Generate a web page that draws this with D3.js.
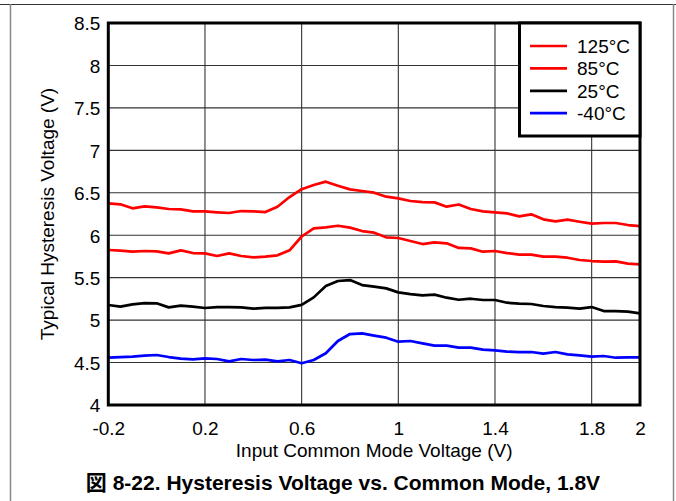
<!DOCTYPE html>
<html>
<head>
<meta charset="utf-8">
<script src="https://cdn.jsdelivr.net/npm/d3@7/dist/d3.min.js"></script>
<style>
  html, body { margin: 0; padding: 0; background: #fff; }
  svg { display: block; font-family: "Liberation Sans", Arial, sans-serif; }
</style>
</head>
<body>
<svg id="chart" width="676" height="501"></svg>
<script>
// ---- data ----
const commonModeV = [-0.2, -0.15, -0.1, -0.05, 0, 0.05, 0.1, 0.15, 0.2, 0.25, 0.3, 0.35, 0.4, 0.45, 0.5, 0.55,
  0.6, 0.65, 0.7, 0.75, 0.8, 0.85, 0.9, 0.95, 1.0, 1.05, 1.1, 1.15, 1.2, 1.25, 1.3,
  1.35, 1.4, 1.45, 1.5, 1.55, 1.6, 1.65, 1.7, 1.75, 1.8, 1.85, 1.9, 1.95, 2.0];

const hyst125 = [6.375, 6.364, 6.317, 6.340, 6.328, 6.309, 6.305, 6.281, 6.281, 6.270, 6.262, 6.285, 6.281, 6.273, 6.336, 6.450,
  6.542, 6.591, 6.631, 6.583, 6.540, 6.521, 6.501, 6.454, 6.434, 6.403, 6.391, 6.387, 6.336, 6.362, 6.309,
  6.281, 6.269, 6.258, 6.222, 6.246, 6.187, 6.163, 6.183, 6.159, 6.136, 6.144, 6.144, 6.120, 6.108];

const hyst85 = [5.826, 5.818, 5.806, 5.814, 5.810, 5.786, 5.822, 5.790, 5.786, 5.755, 5.786, 5.755, 5.739, 5.747, 5.763, 5.822,
  5.985, 6.081, 6.093, 6.112, 6.089, 6.049, 6.030, 5.975, 5.967, 5.932, 5.896, 5.916, 5.905, 5.850, 5.845,
  5.806, 5.814, 5.790, 5.771, 5.771, 5.747, 5.747, 5.735, 5.708, 5.696, 5.688, 5.692, 5.665, 5.657];

const hyst25 = [5.178, 5.158, 5.186, 5.201, 5.198, 5.150, 5.170, 5.158, 5.143, 5.154, 5.154, 5.150, 5.135, 5.143, 5.143, 5.150,
  5.180, 5.268, 5.402, 5.461, 5.472, 5.413, 5.394, 5.374, 5.327, 5.307, 5.291, 5.300, 5.264, 5.240, 5.252,
  5.237, 5.237, 5.205, 5.194, 5.190, 5.166, 5.154, 5.146, 5.135, 5.154, 5.107, 5.107, 5.099, 5.080];

const hystM40 = [4.557, 4.565, 4.569, 4.581, 4.589, 4.565, 4.546, 4.538, 4.550, 4.542, 4.514, 4.542, 4.530, 4.534, 4.514, 4.530,
  4.491, 4.530, 4.609, 4.754, 4.836, 4.844, 4.817, 4.793, 4.746, 4.754, 4.726, 4.699, 4.699, 4.675, 4.675,
  4.652, 4.644, 4.628, 4.624, 4.624, 4.605, 4.624, 4.597, 4.585, 4.569, 4.577, 4.557, 4.561, 4.561];

const seriesNames = ["125°C", "85°C", "25°C", "-40°C"];
const seriesColors = ["#ff0000", "#ff0000", "#000000", "#0000ff"];
const seriesValues = [hyst125, hyst85, hyst25, hystM40];

const xTickValues = [-0.2, 0.2, 0.6, 1, 1.4, 1.8, 2];
const xTickLabels = ["-0.2", "0.2", "0.6", "1", "1.4", "1.8", "2"];
const xGridValues = [0.2, 0.6, 1, 1.4, 1.8];
const yTickValues = [4, 4.5, 5, 5.5, 6, 6.5, 7, 7.5, 8, 8.5];
const yTickLabels = ["4", "4.5", "5", "5.5", "6", "6.5", "7", "7.5", "8", "8.5"];

const xTitle = "Input Common Mode Voltage (V)";
const yTitle = "Typical Hysteresis Voltage (V)";
const caption = "図 8-22. Hysteresis Voltage vs. Common Mode, 1.8V";

// ---- layout ----
const W = 676, H = 501;
const plot = { left: 108.3, right: 640, top: 23, bottom: 405 };

const svg = d3.select("#chart");
svg.append("rect").attr("width", W).attr("height", H).attr("fill", "#fff");

// page frame
svg.append("line").attr("x1", 0).attr("x2", W).attr("y1", 4.5).attr("y2", 4.5)
  .attr("stroke", "#333").attr("stroke-width", 1);
svg.append("line").attr("x1", 10.5).attr("x2", 10.5).attr("y1", 4).attr("y2", H)
  .attr("stroke", "#888").attr("stroke-width", 1.5);
svg.append("line").attr("x1", 673.5).attr("x2", 673.5).attr("y1", 4).attr("y2", H)
  .attr("stroke", "#888").attr("stroke-width", 1.5);

const x = d3.scaleLinear().domain([-0.2, 2]).range([plot.left, plot.right]);
const y = d3.scaleLinear().domain([4, 8.5]).range([plot.bottom, plot.top]);

// grid
const grid = svg.append("g");
grid.selectAll("line.v").data(xGridValues).join("line")
  .attr("x1", d => x(d)).attr("x2", d => x(d))
  .attr("y1", plot.top).attr("y2", plot.bottom)
  .attr("stroke", "#333").attr("stroke-width", 1.1);
grid.selectAll("line.h").data(yTickValues.slice(1, -1)).join("line")
  .attr("x1", plot.left).attr("x2", plot.right)
  .attr("y1", d => y(d)).attr("y2", d => y(d))
  .attr("stroke", "#333").attr("stroke-width", 1.1);

// curves
const line = d3.line().x((d, i) => x(commonModeV[i])).y(d => y(d));
const curves = svg.append("g");
seriesValues.slice().reverse().forEach((vals, k) => {
  const idx = seriesValues.length - 1 - k;
  curves.append("path").datum(vals)
    .attr("d", line)
    .attr("fill", "none")
    .attr("stroke", seriesColors[idx])
    .attr("stroke-width", 2.7)
    .attr("stroke-linejoin", "round");
});

// plot frame
svg.append("rect")
  .attr("x", plot.left).attr("y", plot.top)
  .attr("width", plot.right - plot.left).attr("height", plot.bottom - plot.top)
  .attr("fill", "none").attr("stroke", "#000").attr("stroke-width", 3);

// axes (labels via d3 axes)
const xAxis = d3.axisBottom(x).tickValues(xTickValues)
  .tickFormat((d, i) => xTickLabels[i]).tickSize(0).tickPadding(0);
const gx = svg.append("g").attr("transform", `translate(0,${plot.bottom})`).call(xAxis);
gx.select(".domain").remove();
gx.selectAll("text").attr("font-size", 19).attr("fill", "#000")
  .attr("font-family", "'Liberation Sans', Arial, sans-serif")
  .attr("dy", null).attr("y", 30);

const yAxis = d3.axisLeft(y).tickValues(yTickValues)
  .tickFormat((d, i) => yTickLabels[i]).tickSize(0).tickPadding(0);
const gy = svg.append("g").attr("transform", `translate(${plot.left},0)`).call(yAxis);
gy.select(".domain").remove();
gy.selectAll("text").attr("font-size", 19).attr("fill", "#000")
  .attr("font-family", "'Liberation Sans', Arial, sans-serif")
  .attr("x", -8).attr("dy", "0.36em");

// axis titles
svg.append("text").attr("x", (plot.left + plot.right) / 2).attr("y", 457)
  .attr("text-anchor", "middle").attr("font-size", 19).text(xTitle);
svg.append("text").attr("transform", `translate(54,${(plot.top + plot.bottom) / 2}) rotate(-90)`)
  .attr("text-anchor", "middle").attr("font-size", 19).text(yTitle);

// legend
const lg = svg.append("g");
lg.append("rect").attr("x", 519.5).attr("y", plot.top).attr("width", plot.right - 519.5).attr("height", 113)
  .attr("fill", "#fff").attr("stroke", "#000").attr("stroke-width", 3);
seriesNames.forEach((name, i) => {
  const yy = 46 + i * 22.4;
  lg.append("line").attr("x1", 530).attr("x2", 567).attr("y1", yy).attr("y2", yy)
    .attr("stroke", seriesColors[i]).attr("stroke-width", 2.7);
  lg.append("text").attr("x", 577).attr("y", yy).attr("dy", "0.36em")
    .attr("font-size", 19).text(name);
});

// caption
svg.append("text").attr("x", 343).attr("y", 490).attr("text-anchor", "middle")
  .attr("font-size", 21).attr("font-weight", "bold")
  .attr("font-family", "'Liberation Sans', 'Noto Sans CJK JP', Arial, sans-serif")
  .text(caption);
</script>
</body>
</html>
